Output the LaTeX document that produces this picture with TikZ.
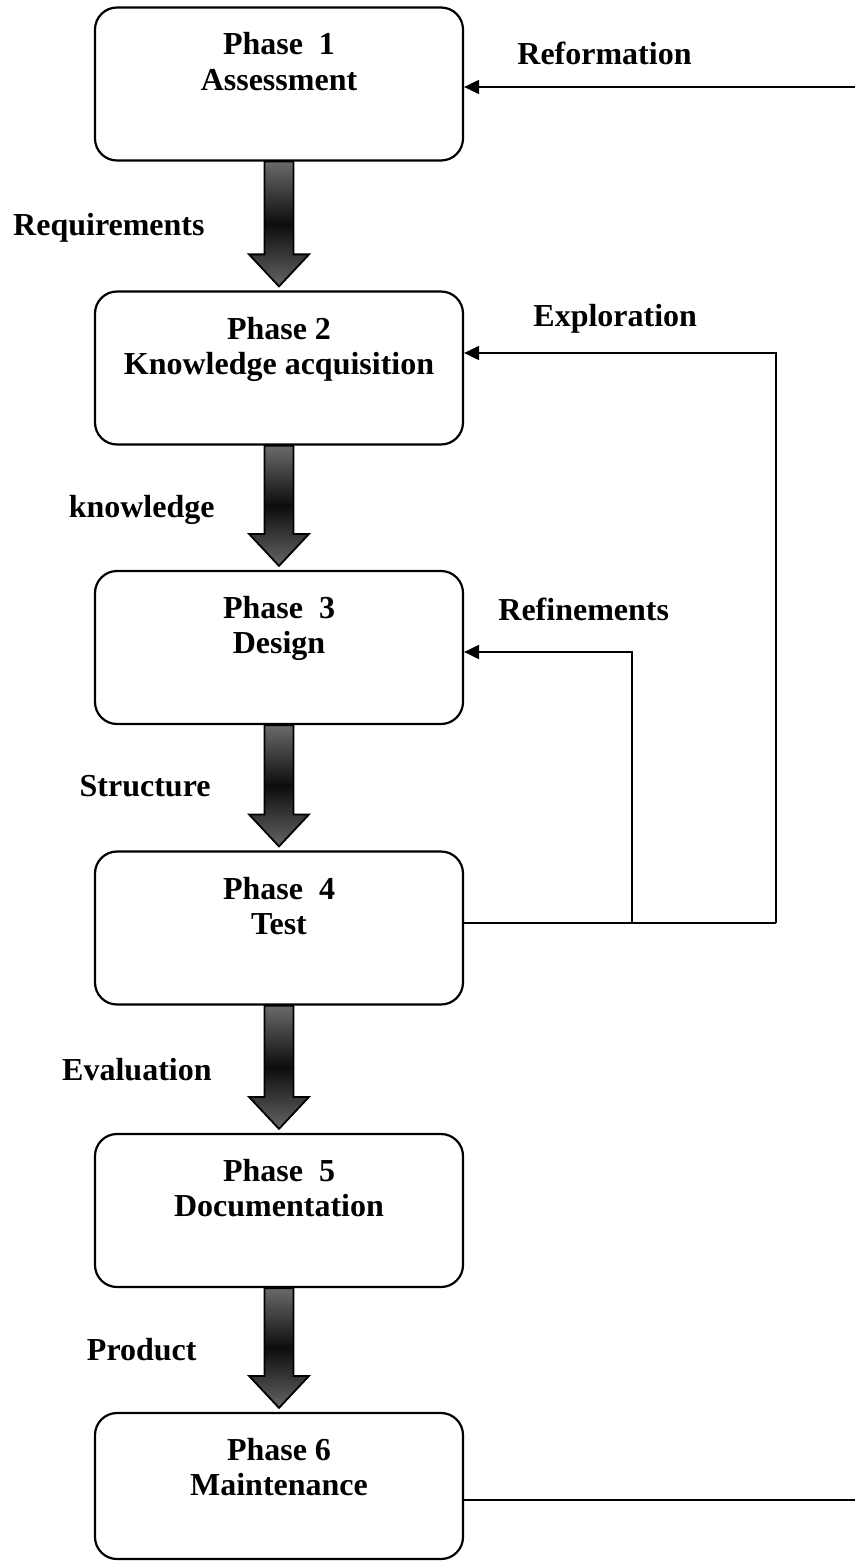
\documentclass[tikz,border=0pt]{standalone}
\usepackage{fontspec}
\setmainfont{Liberation Serif}
\usetikzlibrary{calc,arrows.meta}
\definecolor{agray}{RGB}{106,106,106}
\tikzset{
  x=0.5pt, y=-0.5pt,
  phasebox/.style={draw, line width=1.1pt, rounded corners=11pt, minimum width=184pt, minimum height=76.5pt, inner sep=0pt},
  ptext/.style={anchor=north, align=center, inner sep=0pt, font=\fontsize{16}{17.5}\selectfont\bfseries},
  lab/.style={inner sep=0pt, font=\fontsize{16}{17.5}\selectfont\bfseries},
  line/.style={line width=1pt},
  conn/.style={line width=1pt, -{Triangle[length=7.5pt,width=7pt]}},
  fatarrow/.style={draw, line width=0.9pt, top color=agray, bottom color=agray!95!black, middle color=black!95},
}
\newcommand{\phasearrow}[2]{%
  \path[fatarrow] ($(#1.south)+(-14.5,0)$) -- ($(#1.south)+(14.5,0)$)
    -- ($(#2.north)+(14.5,-36)$) -- ($(#2.north)+(30,-36)$)
    -- ($(#2.north)+(0,-4)$)
    -- ($(#2.north)+(-30,-36)$) -- ($(#2.north)+(-14.5,-36)$) -- cycle;}
\begin{document}
\begin{tikzpicture}
\useasboundingbox (0,0) rectangle (855,1562);
% boxes
\node[phasebox] (b1) at (279,84) {};
\node[phasebox] (b2) at (279,368) {};
\node[phasebox] (b3) at (279,647.5) {};
\node[phasebox] (b4) at (279,928) {};
\node[phasebox] (b5) at (279,1210.5) {};
\node[phasebox, minimum height=73pt] (b6) at (279,1486) {};
% box texts
\node[ptext] (t1) at ($(b1.north)+(0,26)$) {Phase\ \ 1\\Assessment};
\node[ptext] (t2) at ($(b2.north)+(0,26)$) {Phase 2\\Knowledge acquisition};
\node[ptext] (t3) at ($(b3.north)+(0,26)$) {Phase\ \ 3\\Design};
\node[ptext] (t4) at ($(b4.north)+(0,26)$) {Phase\ \ 4\\Test};
\node[ptext] (t5) at ($(b5.north)+(0,26)$) {Phase\ \ 5\\Documentation};
\node[ptext] (t6) at ($(b6.north)+(0,26)$) {Phase 6\\Maintenance};
% fat arrows
\phasearrow{b1}{b2}
\phasearrow{b2}{b3}
\phasearrow{b3}{b4}
\phasearrow{b4}{b5}
\phasearrow{b5}{b6}
% left labels
\node[lab, anchor=base east] (l1) at (205,235) {Requirements};
\node[lab, anchor=base east] (l2) at (215,517) {knowledge};
\node[lab, anchor=base east] (l3) at (211,796) {Structure};
\node[lab, anchor=base east] (l4) at (212,1080) {Evaluation};
\node[lab, anchor=base east] (l5) at (197,1360) {Product};
% right labels
\node[lab, anchor=base west] (r1l) at (517,65) {Reformation};
\node[lab, anchor=base west] (r2l) at (533,326) {Exploration};
\node[lab, anchor=base west] (r3l) at (498,620) {Refinements};
% feedback connectors
\coordinate (ref) at (855,87);
\coordinate (ex) at (776,353);
\coordinate (rf) at (632,652);
\coordinate (j4) at (776,923);
\coordinate (j3) at (632,923);
\coordinate (out6) at (855,1500);
\draw[conn] (ref) -- (ref -| b1.east);
\draw[line] ($(b4.east)+(0,-5)$) -- (j4);
\draw[conn] (j4) -- (ex) -- (ex -| b2.east);
\draw[conn] (j3) -- (rf) -- (rf -| b3.east);
\draw[line] (b6.east |- out6) -- (out6);
\end{tikzpicture}
\end{document}
